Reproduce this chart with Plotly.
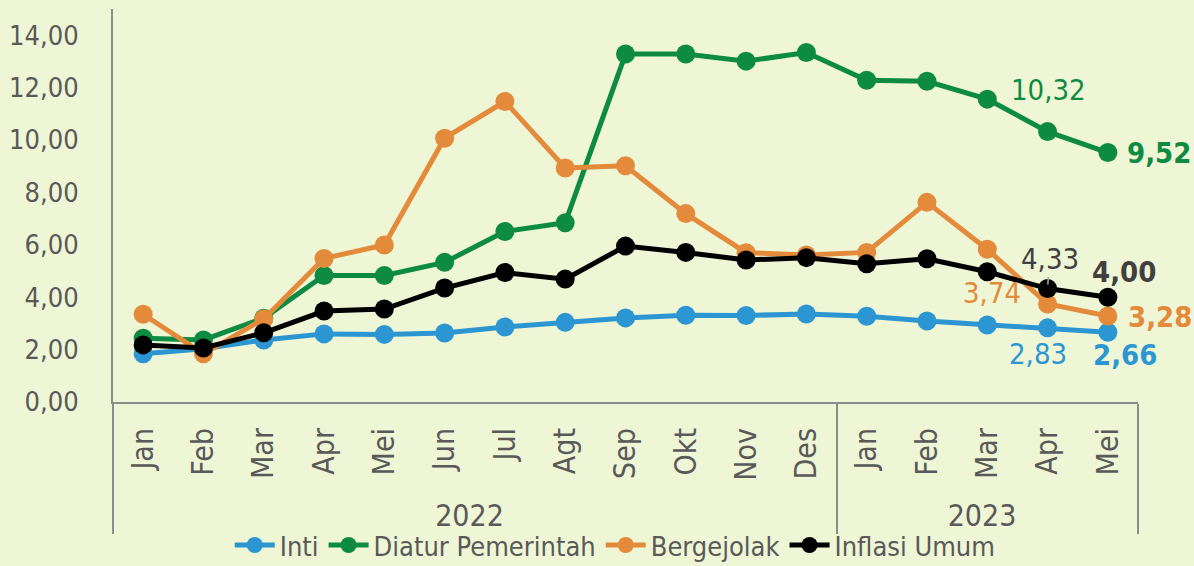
import plotly.graph_objects as go

years = ["2022"] * 12 + ["2023"] * 5
months = ["Jan", "Feb", "Mar", "Apr", "Mei", "Jun", "Jul", "Agt", "Sep", "Okt", "Nov", "Des",
          "Jan", "Feb", "Mar", "Apr", "Mei"]

inti = [1.84, 2.03, 2.37, 2.60, 2.58, 2.63, 2.86, 3.04, 3.21, 3.31, 3.30, 3.36,
        3.27, 3.09, 2.94, 2.83, 2.66]
diatur = [2.43, 2.37, 3.20, 4.83, 4.83, 5.33, 6.51, 6.84, 13.28, 13.28, 13.01, 13.34,
          12.28, 12.24, 11.56, 10.32, 9.52]
bergejolak = [3.35, 1.84, 3.17, 5.48, 5.99, 10.07, 11.47, 8.93, 9.02, 7.19, 5.70, 5.61,
              5.71, 7.62, 5.83, 3.74, 3.28]
umum = [2.18, 2.06, 2.64, 3.47, 3.55, 4.35, 4.94, 4.69, 5.95, 5.71, 5.42, 5.51,
        5.28, 5.47, 4.97, 4.33, 4.00]

series = [
    ("Inti", inti, "#2B96D1"),
    ("Diatur Pemerintah", diatur, "#0E8B42"),
    ("Bergejolak", bergejolak, "#E48A3B"),
    ("Inflasi Umum", umum, "#000000"),
]

FONT = "DejaVu Sans Condensed, Liberation Sans Narrow, sans-serif"
GRAY = "#595959"
AXIS = "#8C8C8C"
BG = "#EEF6D5"

fig = go.Figure()
for name, vals, col in series:
    fig.add_trace(go.Scatter(
        x=[years, months], y=vals, name=name, mode="lines+markers",
        line=dict(color=col, width=5),
        marker=dict(color=col, size=19),
    ))

n = len(months)
labels = [
    # (series values, index, color, bold, xshift, yshift)
    (diatur, n - 2, "#0E8B42", False, 1, 42),
    (diatur, n - 1, "#0E8B42", True, 51, 0),
    (umum, n - 1, "#404040", True, 16, 25),
    (bergejolak, n - 2, "#E48A3B", False, -56, 11),
    (bergejolak, n - 1, "#E48A3B", True, 52, -1),
    (inti, n - 2, "#2B96D1", False, -10, -26),
    (inti, n - 1, "#2B96D1", True, 17, -23),
]
for vals, i, col, bold, xs, ys in labels:
    txt = f"{vals[i]:.2f}".replace(".", ",")
    if bold:
        txt = f"<b>{txt}</b>"
    fig.add_annotation(x=i, y=vals[i], text=txt, showarrow=False,
                       xshift=xs, yshift=ys,
                       font=dict(family=FONT, size=29, color=col))

fig.add_annotation(x=n - 2, y=umum[n - 2],
                   text=f"{umum[n - 2]:.2f}".replace(".", ","),
                   showarrow=True, arrowhead=0, arrowwidth=1.5, arrowcolor="#A6A6A6",
                   ax=2, ay=-30, standoff=4,
                   font=dict(family=FONT, size=29, color="#404040"))

fig.update_layout(
    width=1194, height=566,
    margin=dict(l=113, r=56, t=9, b=164, autoexpand=False),
    paper_bgcolor=BG, plot_bgcolor=BG,
    separators=",.",
    font=dict(family=FONT, color=GRAY, size=28),
    showlegend=True,
    legend=dict(orientation="h", x=0.49, xanchor="center", y=-0.365, yanchor="middle",
                font=dict(family=FONT, size=27, color=GRAY),
                bgcolor="rgba(0,0,0,0)", itemwidth=40, tracegroupgap=0),
)
fig.update_xaxes(
    type="multicategory", range=[-0.5, n - 0.5], automargin=False,
    showline=True, linecolor=AXIS, linewidth=2,
    showgrid=False, zeroline=False,
    tickangle=-90, tickfont=dict(family=FONT, size=30, color=GRAY),
    showdividers=True, dividercolor=AXIS, dividerwidth=2,
    ticks="", ticklabelstandoff=12,
)
fig.update_yaxes(
    range=[0, 15], dtick=2, tick0=0, tickformat=".2f", automargin=False,
    showline=True, linecolor=AXIS, linewidth=2,
    showgrid=False, zeroline=False,
    tickfont=dict(family=FONT, size=27, color=GRAY),
    ticks="", ticklabelstandoff=27,
)

fig.write_html("out.html", config={"displayModeBar": False},
               post_script="document.body.style.margin='0';")
